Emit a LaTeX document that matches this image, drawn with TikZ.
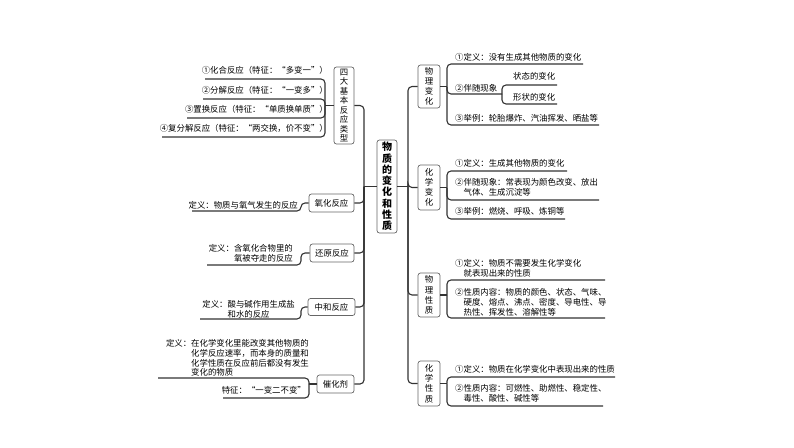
\documentclass[tikz,border=0pt]{standalone}
\usepackage{fontspec}
\setmainfont{Noto Sans CJK SC}
\tikzset{
  box/.style={draw=black!60, line width=0.7pt, rounded corners=2.5pt, fill=white, inner sep=0pt, align=center, font=\fontsize{8.4pt}{10.2pt}\selectfont},
  conn/.style={draw=black!80, line width=1.1pt, rounded corners=4pt},
  lt/.style={anchor=east, inner sep=0pt, align=left, font=\fontsize{8.4pt}{9.8pt}\selectfont},
  rt/.style={anchor=west, inner sep=0pt, align=left, font=\fontsize{8.4pt}{9.8pt}\selectfont},
}
\begin{document}
\begin{tikzpicture}[x=1pt,y=-1pt]
\useasboundingbox[fill=white] (0,0) rectangle (794,447);
% central
\node[box, minimum width=20pt, minimum height=93pt, font=\bfseries\fontsize{10pt}{11.3pt}\selectfont] (core) at (387,186.5) {物\\质\\的\\变\\化\\和\\性\\质};
% left boxes
\node[box, minimum width=20pt, minimum height=77pt, font=\fontsize{8.4pt}{9.5pt}\selectfont] (sida) at (344,105.5) {四\\大\\基\\本\\反\\应\\类\\型};
\node[box, minimum width=45pt, minimum height=18pt] (yh) at (331.5,203) {氧化反应};
\node[box, minimum width=44pt, minimum height=18pt] (hy) at (332,253) {还原反应};
\node[box, minimum width=47pt, minimum height=17pt] (zh) at (331.5,307) {中和反应};
\node[box, minimum width=37pt, minimum height=18pt] (ch) at (335.5,384) {催化剂};
% right boxes
\node[box, minimum width=22pt, minimum height=43pt] (wlbh) at (429,86.5) {物\\理\\变\\化};
\node[box, minimum width=22pt, minimum height=45pt] (hxbh) at (429,187.5) {化\\学\\变\\化};
\node[box, minimum width=22pt, minimum height=44pt] (wlxz) at (429,295) {物\\理\\性\\质};
\node[box, minimum width=22pt, minimum height=45pt] (hxxz) at (429,383.5) {化\\学\\性\\质};

% trunk junctions
\coordinate (L) at (364,186.5);
\coordinate (R) at (408,186.5);
\draw[conn] (core.west) -- (L);
\draw[conn] (core.east) -- (R);
\foreach \b in {sida,yh,hy,zh,ch} {\draw[conn] (L) |- (\b.east);}
\foreach \b in {wlbh,hxbh,wlxz,hxxz} {\draw[conn] (R) |- (\b.west);}

% ---- right texts
\node[rt] (pb1) at (455,57) {①定义：没有生成其他物质的变化};
\node[rt] (pb2) at (455,88) {②伴随现象};
\node[rt] (pb2a) at (513,76) {状态的变化};
\node[rt] (pb2b) at (513,97) {形状的变化};
\node[rt] (pb3) at (455,118) {③举例：轮胎爆炸、汽油挥发、晒盐等};
\node[rt] (hb1) at (455,163) {①定义：生成其他物质的变化};
\node[rt] (hb2) at (455,187.5) {②伴随现象：常表现为颜色改变、放出\\\hspace*{1em}气体、生成沉淀等};
\node[rt] (hb3) at (455,211) {③举例：燃烧、呼吸、炼铜等};
\node[rt] (wx1) at (455,268) {①定义：物质不需要发生化学变化\\\hspace*{1em}就表现出来的性质};
\node[rt] (wx2) at (455,302.5) {②性质内容：物质的颜色、状态、气味、\\\hspace*{1em}硬度、熔点、沸点、密度、导电性、导\\\hspace*{1em}热性、挥发性、溶解性等};
\node[rt] (hx1) at (455,369) {①定义：物质在化学变化中表现出来的性质};
\node[rt] (hx2) at (455,393) {②性质内容：可燃性、助燃性、稳定性、\\\hspace*{1em}毒性、酸性、碱性等};

% right brackets
\coordinate (J1) at (447,86.5);
\coordinate (pb1e) at (583,64);
\coordinate (pb2e) at (502,94);
\coordinate (pb2ae) at (557,85);
\coordinate (pb2be) at (557,104);
\coordinate (pb3e) at (599,125);
\draw[conn] (wlbh.east) -- (J1);
\draw[conn] (J1) |- (pb1e);
\draw[conn] (J1) |- (pb2e);
\draw[conn] (J1) |- (pb3e);
\draw[conn] (pb2e) |- (pb2ae);
\draw[conn] (pb2e) |- (pb2be);

\coordinate (J2) at (447,187.5);
\coordinate (hb1e) at (567,171);
\coordinate (hb2e) at (599,200);
\coordinate (hb3e) at (565,219);
\draw[conn] (hxbh.east) -- (J2);
\draw[conn] (J2) |- (hb1e);
\draw[conn] (J2) |- (hb2e);
\draw[conn] (J2) |- (hb3e);

\coordinate (J3) at (447,295);
\coordinate (wx1e) at (605,280);
\coordinate (wx2e) at (605,318);
\draw[conn] (wlxz.east) -- (J3);
\draw[conn] (J3) |- (wx1e);
\draw[conn] (J3) |- (wx2e);

\coordinate (J4) at (447,383.5);
\coordinate (hx1e) at (615,377);
\coordinate (hx2e) at (603,406);
\draw[conn] (hxxz.east) -- (J4);
\draw[conn] (J4) |- (hx1e);
\draw[conn] (J4) |- (hx2e);

% ---- left texts
\node[lt] (s1) at (328,70) {①化合反应（特征：“多变一”）};
\node[lt] (s2) at (328,90) {②分解反应（特征：“一变多”）};
\node[lt] (s3) at (328,109) {③置换反应（特征：“单质换单质”）};
\node[lt] (s4) at (328,128) {④复分解反应（特征：“两交换，价不变”）};
\node[lt] (yht) at (298,205) {定义：物质与氧气发生的反应};
\node[lt] (hyt) at (293,253.5) {定义：含氧化合物里的\\\hspace*{3em}氧被夺走的反应};
\node[lt] (zht) at (295,309.5) {定义：酸与碱作用生成盐\\\hspace*{3em}和水的反应};
\node[lt] (cht1) at (309,358) {定义：在化学变化里能改变其他物质的\\\hspace*{3em}化学反应速率，而本身的质量和\\\hspace*{3em}化学性质在反应前后都没有发生\\\hspace*{3em}变化的物质};
\node[lt] (cht2) at (306,390) {特征：“一变二不变”};

% left brackets
\coordinate (K1) at (325,105.5);
\coordinate (s1e) at (205,79);
\coordinate (s2e) at (203,99);
\coordinate (s3e) at (187,118);
\coordinate (s4e) at (162,137);
\draw[conn] (sida.west) -- (K1);
\foreach \c in {s1e,s2e,s3e,s4e} {\draw[conn] (K1) |- (\c);}

\coordinate (K2) at (301,203);
\coordinate (yhe) at (192,211);
\draw[conn] (yh.west) -- (K2) |- (yhe);

\coordinate (K3) at (301,253);
\coordinate (hye) at (207,265);
\draw[conn] (hy.west) -- (K3) |- (hye);

\coordinate (K4) at (301,307);
\coordinate (zhe) at (200,319);
\draw[conn] (zh.west) -- (K4) |- (zhe);

\coordinate (K5) at (309,384);
\coordinate (ch1e) at (158,378);
\coordinate (ch2e) at (223,398);
\draw[conn] (ch.west) -- (K5);
\draw[conn] (K5) |- (ch1e);
\draw[conn] (K5) |- (ch2e);
\end{tikzpicture}
\end{document}
